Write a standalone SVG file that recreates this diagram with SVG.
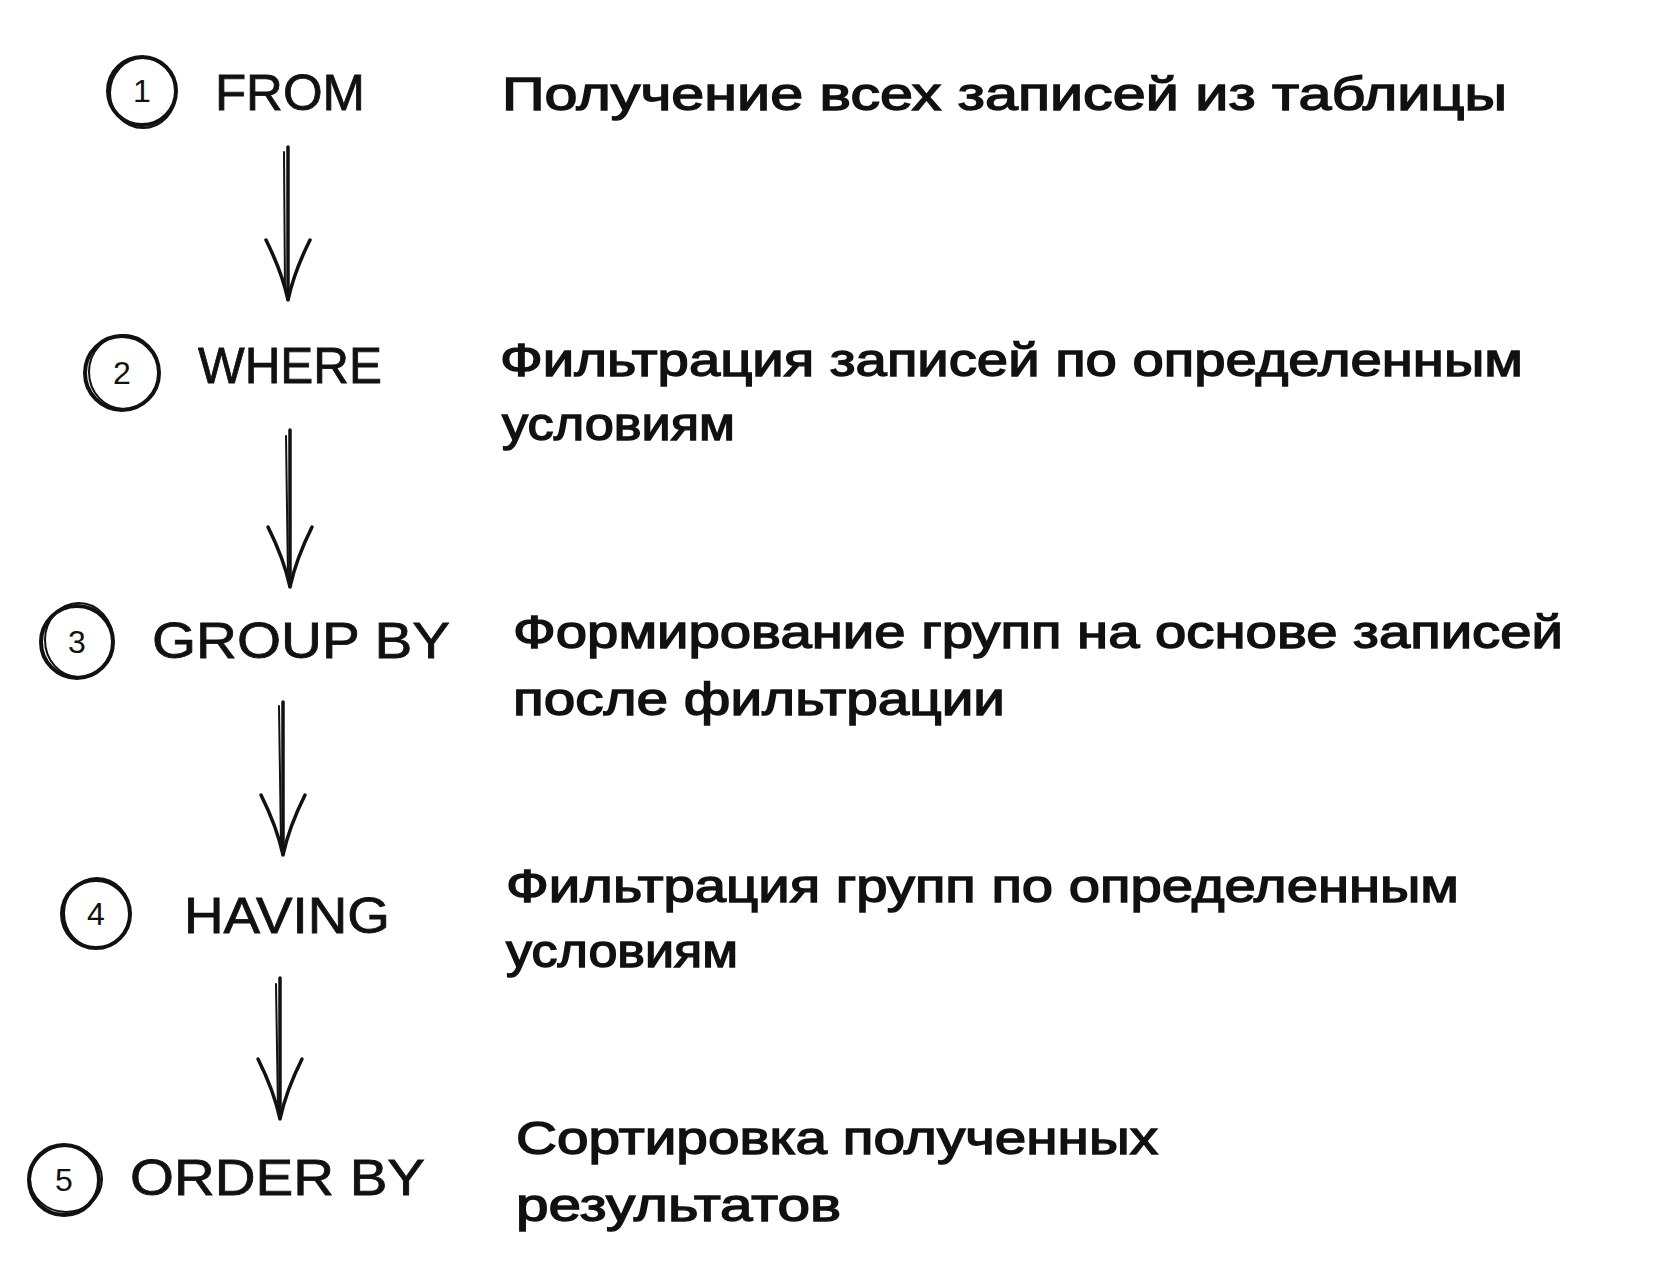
<svg xmlns="http://www.w3.org/2000/svg" width="1676" height="1269" viewBox="0 0 1676 1269">
  <style>
    .ring { fill: none; stroke: #111; stroke-width: 4; }
    .ring2 { fill: none; stroke: #111; stroke-width: 2; }
    .num { font-family: "Liberation Sans", Arial, sans-serif; font-size: 32px; fill: #111; text-anchor: middle; }
    .kw { font-family: "Liberation Sans", Arial, sans-serif; font-size: 50px; fill: #111; stroke: #111; stroke-width: 0.8; }
    .desc { font-family: "Liberation Sans", Arial, sans-serif; font-size: 46px; fill: #111; stroke: #111; stroke-width: 1.4; }
    .conn { fill: none; stroke: #111; stroke-width: 3.5; stroke-linecap: round; }
    .conn2 { fill: none; stroke: #111; stroke-width: 2; stroke-linecap: round; }
  </style>
  <defs>
    <marker id="head" markerUnits="userSpaceOnUse" viewBox="-66 -30 72 60" markerWidth="72" markerHeight="60" refX="0" refY="0" orient="auto">
      <path d="M-60,-22 Q-28,-6 0,0 Q-28,6 -60,22" fill="none" stroke="#111" stroke-width="3.5" stroke-linecap="round"/>
    </marker>
  </defs>
  <rect width="1676" height="1269" fill="#ffffff"/>

  <g id="step1">
    <circle class="ring" cx="142" cy="91" r="34"/>
    <ellipse class="ring2" cx="143" cy="93" rx="33" ry="35"/>
    <text class="num" x="142" y="102">1</text>
    <text class="kw" x="215" y="110" textLength="150" lengthAdjust="spacingAndGlyphs">FROM</text>
    <text class="desc" x="502" y="110" textLength="1005" lengthAdjust="spacingAndGlyphs">Получение всех записей из таблицы</text>
  </g>

  <g id="step2">
    <circle class="ring" cx="122" cy="373" r="37"/>
    <ellipse class="ring2" cx="124" cy="372" rx="35" ry="37"/>
    <text class="num" x="122" y="384">2</text>
    <text class="kw" x="198" y="383" textLength="184" lengthAdjust="spacingAndGlyphs">WHERE</text>
    <text class="desc" x="500" y="376" textLength="1023" lengthAdjust="spacingAndGlyphs">Фильтрация записей по определенным</text>
    <text class="desc" x="502" y="440" textLength="233" lengthAdjust="spacingAndGlyphs">условиям</text>
  </g>

  <g id="step3">
    <circle class="ring" cx="77" cy="642" r="36"/>
    <ellipse class="ring2" cx="79" cy="640" rx="34" ry="37"/>
    <text class="num" x="77" y="653">3</text>
    <text class="kw" x="152" y="658" textLength="298" lengthAdjust="spacingAndGlyphs">GROUP BY</text>
    <text class="desc" x="513" y="648" textLength="1050" lengthAdjust="spacingAndGlyphs">Формирование групп на основе записей</text>
    <text class="desc" x="513" y="715" textLength="492" lengthAdjust="spacingAndGlyphs">после фильтрации</text>
  </g>

  <g id="step4">
    <circle class="ring" cx="96" cy="914" r="34"/>
    <ellipse class="ring2" cx="97" cy="913" rx="33" ry="35"/>
    <text class="num" x="96" y="925">4</text>
    <text class="kw" x="184" y="933" textLength="206" lengthAdjust="spacingAndGlyphs">HAVING</text>
    <text class="desc" x="506" y="902" textLength="953" lengthAdjust="spacingAndGlyphs">Фильтрация групп по определенным</text>
    <text class="desc" x="506" y="967" textLength="232" lengthAdjust="spacingAndGlyphs">условиям</text>
  </g>

  <g id="step5">
    <circle class="ring" cx="64" cy="1180" r="35"/>
    <ellipse class="ring2" cx="66" cy="1179" rx="36" ry="33"/>
    <text class="num" x="64" y="1191">5</text>
    <text class="kw" x="130" y="1195" textLength="295" lengthAdjust="spacingAndGlyphs">ORDER BY</text>
    <text class="desc" x="516" y="1154" textLength="642" lengthAdjust="spacingAndGlyphs">Сортировка полученных</text>
    <text class="desc" x="516" y="1221" textLength="325" lengthAdjust="spacingAndGlyphs">результатов</text>
  </g>

  <g id="connectors">
    <line class="conn" x1="288" y1="147" x2="288" y2="300" marker-end="url(#head)"/>
    <line class="conn2" x1="284" y1="152" x2="285" y2="290"/>
    <line class="conn" x1="290" y1="430" x2="290" y2="587" marker-end="url(#head)"/>
    <line class="conn2" x1="286" y1="436" x2="288" y2="578"/>
    <line class="conn" x1="283" y1="702" x2="283" y2="855" marker-end="url(#head)"/>
    <line class="conn2" x1="279" y1="706" x2="281" y2="845"/>
    <line class="conn" x1="280" y1="978" x2="280" y2="1119" marker-end="url(#head)"/>
    <line class="conn2" x1="276" y1="984" x2="278" y2="1110"/>
  </g>
</svg>
